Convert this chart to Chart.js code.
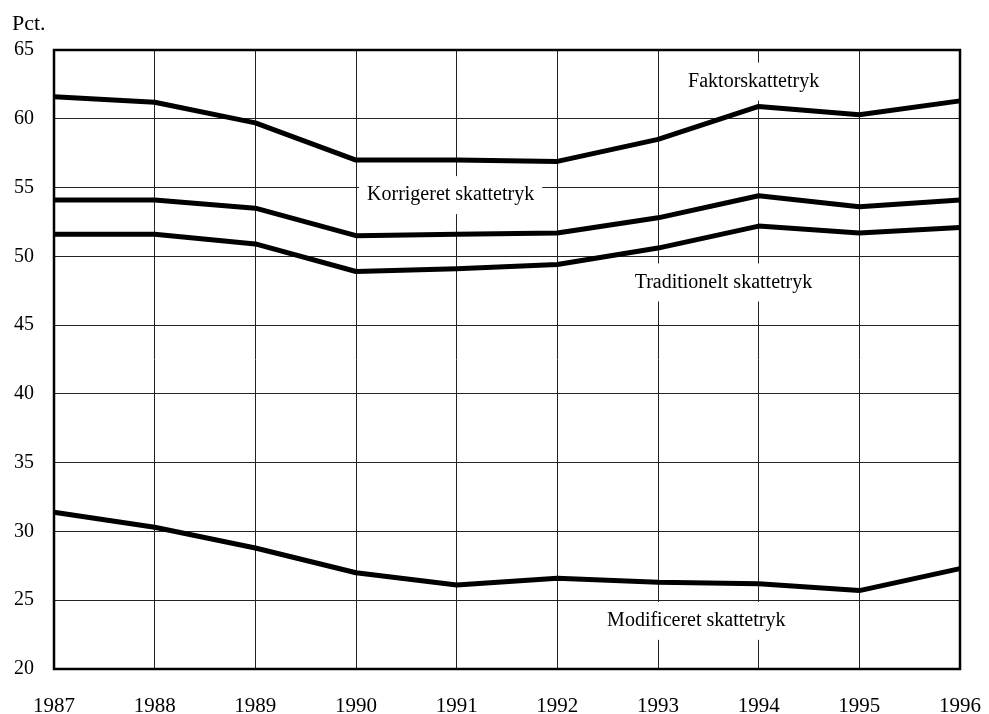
<!DOCTYPE html>
<html>
<head>
<meta charset="utf-8">
<script src="https://cdn.jsdelivr.net/npm/chart.js@4"></script>
<style>
  html, body { margin: 0; padding: 0; background: #fff; }
  #wrap { width: 989px; height: 714px; position: relative; }
</style>
</head>
<body>
<div id="wrap"><canvas id="chart"></canvas></div>
<script>
// Data
const years = ['1987', '1988', '1989', '1990', '1991', '1992', '1993', '1994', '1995', '1996'];
const faktor = [61.6, 61.2, 59.7, 57.0, 57.0, 56.9, 58.5, 60.9, 60.3, 61.3];
const korrigeret = [54.1, 54.1, 53.5, 51.5, 51.6, 51.7, 52.8, 54.4, 53.6, 54.1];
const traditionelt = [51.6, 51.6, 50.9, 48.9, 49.1, 49.4, 50.6, 52.2, 51.7, 52.1];
const modificeret = [31.4, 30.3, 28.8, 27.0, 26.1, 26.6, 26.3, 26.2, 25.7, 27.3];

// Series labels placed on the chart (x = year index, y = value)
const seriesLabels = [
    { text: 'Faktorskattetryk', x: 6.95, y: 62.7 },
    { text: 'Korrigeret skattetryk', x: 3.94, y: 54.45 },
    { text: 'Traditionelt skattetryk', x: 6.65, y: 48.1 },
    { text: 'Modificeret skattetryk', x: 6.38, y: 23.5 }
];

const serif = '"Liberation Serif", "DejaVu Serif", serif';

function lineSet(label, data) {
    return {
        label: label,
        data: data,
        borderColor: '#000',
        borderWidth: 5,
        pointRadius: 0,
        tension: 0,
        fill: false,
        borderJoinStyle: 'round'
    };
}

// Labels with a white box behind them, plus the "Pct." unit
const labelPlugin = {
    id: 'seriesLabels',
    beforeDatasetsDraw(chart) {
        const ctx = chart.ctx;
        const xs = chart.scales.x, ys = chart.scales.y;
        ctx.save();
        ctx.font = '20px ' + serif;
        ctx.textAlign = 'center';
        ctx.textBaseline = 'middle';
        seriesLabels.forEach(l => {
            const px = xs.getPixelForValue(l.x);
            const py = ys.getPixelForValue(l.y);
            const w = ctx.measureText(l.text).width;
            ctx.fillStyle = '#fff';
            ctx.fillRect(px - w / 2 - 8, py - 19, w + 16, 38);
            ctx.fillStyle = '#000';
            ctx.fillText(l.text, px, py);
        });
        ctx.font = '22px ' + serif;
        ctx.textAlign = 'left';
        ctx.textBaseline = 'alphabetic';
        ctx.fillText('Pct.', 12, 30);
        ctx.restore();
    },
    afterDatasetsDraw(chart) {
        const a = chart.chartArea;
        const ctx = chart.ctx;
        ctx.save();
        ctx.strokeStyle = '#000';
        ctx.lineWidth = 2.5;
        ctx.strokeRect(a.left, a.top, a.right - a.left, a.bottom - a.top);
        ctx.restore();
    }
};

new Chart(document.getElementById('chart'), {
    type: 'line',
    data: {
        labels: years,
        datasets: [
            lineSet('Faktorskattetryk', faktor),
            lineSet('Korrigeret skattetryk', korrigeret),
            lineSet('Traditionelt skattetryk', traditionelt),
            lineSet('Modificeret skattetryk', modificeret)
        ]
    },
    options: {
        responsive: true,
        maintainAspectRatio: false,
        animation: false,
        layout: { padding: { top: 50, right: 29, left: 0, bottom: 0 } },
        plugins: {
            legend: { display: false },
            tooltip: { enabled: false }
        },
        scales: {
            x: {
                offset: false,
                grid: { color: '#222', lineWidth: 1, drawTicks: false },
                border: { display: false },
                ticks: {
                    color: '#000',
                    font: { family: serif, size: 21 },
                    padding: 25,
                    maxRotation: 0,
                    autoSkip: false
                },
                afterFit(scale) {
                    scale.height = 45;
                    scale.paddingLeft = 0;
                    scale.paddingRight = 0;
                }
            },
            y: {
                min: 20,
                max: 65,
                grid: { color: '#222', lineWidth: 1, drawTicks: false },
                border: { display: false },
                ticks: {
                    stepSize: 5,
                    color: '#000',
                    font: { family: serif, size: 20 },
                    padding: 20
                },
                afterFit(scale) {
                    scale.width = 54;
                    scale.paddingTop = 0;
                    scale.paddingBottom = 0;
                }
            }
        }
    },
    plugins: [labelPlugin]
});
</script>
</body>
</html>
